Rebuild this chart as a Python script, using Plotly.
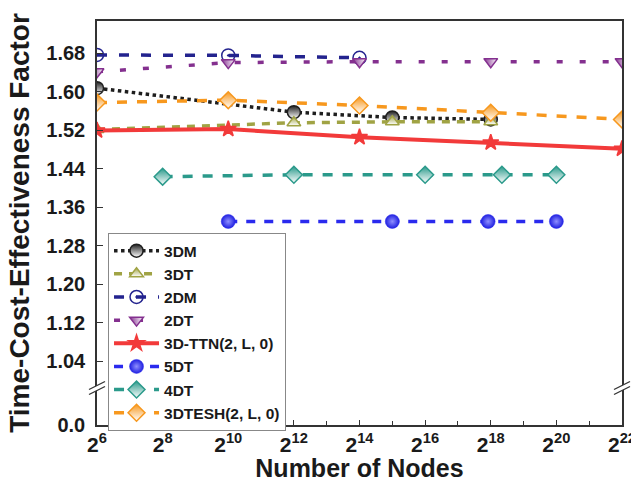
import plotly.graph_objects as go

# x values are log2(number of nodes)
x_3dm = [6, 12, 15, 18]
y_3dm = [1.607, 1.557, 1.546, 1.542]
x_3dt = [6, 12, 15, 18]
y_3dt = [1.521, 1.535, 1.537, 1.537]
x_2dm = [6, 10, 14]
y_2dm = [1.676, 1.675, 1.670]
x_2dt = [6, 10, 14, 18, 22]
y_2dt = [1.641, 1.660, 1.662, 1.662, 1.662]
x_ttn = [6, 10, 14, 18, 22]
y_ttn = [1.519, 1.522, 1.505, 1.494, 1.481]
x_5dt = [10, 15, 17.92, 20]
y_5dt = [1.330, 1.330, 1.330, 1.330]
x_4dt = [8, 12, 16, 18.34, 20]
y_4dt = [1.423, 1.427, 1.427, 1.427, 1.427]
x_tesh = [6, 10, 14, 18, 22]
y_tesh = [1.577, 1.582, 1.571, 1.556, 1.542]

x_tick_exps = [6, 8, 10, 12, 14, 16, 18, 20, 22]
x_minor_exps = [7, 9, 11, 13, 15, 17, 19, 21]
y_ticks = [1.04, 1.12, 1.20, 1.28, 1.36, 1.44, 1.52, 1.60, 1.68]
y_floor = 0.907      # bottom of the broken axis, labelled 0.0
y_top = 1.7465
y_break = 0.985

FONT = "Arial, 'Liberation Sans', sans-serif"

fig = go.Figure()


def add(name, xs, ys, color, dash, width, symbol, size, fill, grad_type="none",
        grad_color="white", line_w=1.5, line_c=None):
    fig.add_trace(go.Scatter(
        x=xs, y=ys, name=name, mode="lines+markers",
        line=dict(color=color, dash=dash, width=width),
        marker=dict(symbol=symbol, size=size, color=fill,
                    gradient=dict(type=grad_type, color=grad_color),
                    line=dict(color=line_c or color, width=line_w)),
    ))


add("3DM", x_3dm, y_3dm, "#1e1e1e", "dot", 3.5, "circle", 13, "#1e1e1e",
    "vertical", "white")
add("3DT", x_3dt, y_3dt, "#a0a344", "8px,7px", 3.5, "triangle-up", 12,
    "#a0a344", "vertical", "white")
add("2DM", x_2dm, y_2dm, "#23238e", "10px,12px", 3.5, "circle-open-dot", 13,
    "#23238e", line_w=1.5)
add("2DT", x_2dt, y_2dt, "#84308f", "6px,17px", 3.5, "triangle-down", 12,
    "#84308f", "horizontal", "white")
add("3D-TTN(2, L, 0)", x_ttn, y_ttn, "#f23a3a", "solid", 4, "star", 12,
    "#f23a3a")
add("5DT", x_5dt, y_5dt, "#2a2aee", "9px,9px", 3.5, "circle", 14, "#2020e0",
    "radial", "#8f8fff", line_w=0.5)
add("4DT", x_4dt, y_4dt, "#2b9a8b", "10px,10px", 3.5, "diamond", 13,
    "#2b9a8b", "vertical", "white")
add("3DTESH(2, L, 0)", x_tesh, y_tesh, "#f7981e", "10px,10px", 3.5, "diamond",
    13, "#f7981e", "vertical", "white")

# axis-break marks on the left and right axis lines
for xa in (0, 1):
    fig.add_shape(type="path", xref="paper", yref="y", xsizemode="pixel",
                  ysizemode="pixel", xanchor=xa, yanchor=y_break,
                  path="M-8,-7 L8,1 L8,6 L-8,-2 Z", fillcolor="white",
                  line=dict(width=0), layer="above")
    for off in (0, 5):
        fig.add_shape(type="path", xref="paper", yref="y", xsizemode="pixel",
                      ysizemode="pixel", xanchor=xa, yanchor=y_break,
                      path=f"M-8,{-7 + off} L8,{1 + off}",
                      line=dict(color="#333333", width=1.3), layer="above")

fig.update_layout(
    width=631, height=482,
    margin=dict(l=97, r=9, t=21, b=57),
    paper_bgcolor="white", plot_bgcolor="white",
    font=dict(family=FONT, color="#1a1a1a"),
    showlegend=True,
    legend=dict(x=0.021, y=0.475, xanchor="left", yanchor="top",
                bgcolor="white", bordercolor="#888888", borderwidth=1,
                font=dict(size=15.5, weight="bold", family=FONT),
                itemwidth=45, tracegroupgap=0),
    xaxis=dict(
        range=[6, 22], tickmode="array", tickvals=x_tick_exps,
        ticktext=[f"2<sup>{e}</sup>" for e in x_tick_exps],
        ticklabeloverflow="allow", automargin=False,
        ticks="inside", ticklen=5, tickwidth=1.3, tickcolor="#333333",
        minor=dict(tickvals=x_minor_exps, ticks="inside", ticklen=4,
                   tickwidth=1.3, tickcolor="#333333"),
        showline=True, linecolor="#333333", linewidth=1.5, mirror=True,
        showgrid=False, zeroline=False,
        tickfont=dict(size=21, weight="bold", family=FONT),
        title=dict(text="Number of Nodes", standoff=13,
                   font=dict(size=25, weight="bold", family=FONT)),
    ),
    yaxis=dict(
        range=[y_floor, y_top], tickmode="array",
        tickvals=[y_floor] + y_ticks,
        ticktext=["0.0"] + [f"{v:.2f}" for v in y_ticks],
        ticks="inside", ticklen=6, tickwidth=1.3, tickcolor="#333333",
        ticklabelstandoff=6, automargin=False,
        showline=True, linecolor="#333333", linewidth=1.5, mirror=True,
        showgrid=False, zeroline=False,
        tickfont=dict(size=20, weight="bold", family=FONT),
        title=dict(text="Time-Cost-Effectiveness Factor", standoff=9,
                   font=dict(size=28, weight="bold", family=FONT)),
    ),
)

fig.write_html("out.html")
